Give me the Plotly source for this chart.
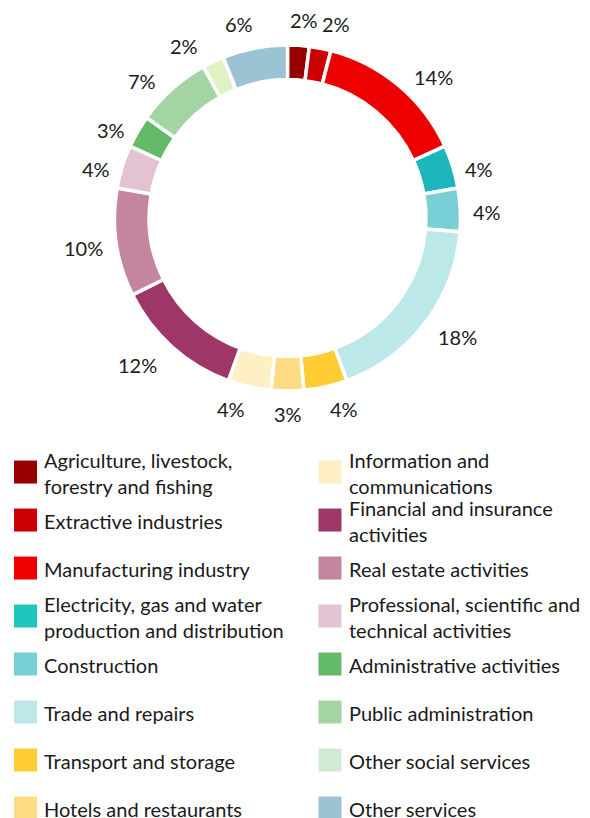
import math
import plotly.graph_objects as go

# sector shares (%), clockwise from 12 o'clock
SECTORS = [
    "Agriculture, livestock, forestry and fishing",
    "Extractive industries",
    "Manufacturing industry",
    "Electricity, gas and water production and distribution",
    "Construction",
    "Trade and repairs",
    "Transport and storage",
    "Hotels and restaurants",
    "Information and communications",
    "Financial and insurance activities",
    "Real estate activities",
    "Professional, scientific and technical activities",
    "Administrative activities",
    "Public administration",
    "Other social services",
    "Other services",
]
LEGEND_TEXT = [
    "Agriculture, livestock,<br>forestry and fishing",
    "Extractive industries",
    "Manufacturing industry",
    "Electricity, gas and water<br>production and distribution",
    "Construction",
    "Trade and repairs",
    "Transport and storage",
    "Hotels and restaurants",
    "Information and<br>communications",
    "Financial and insurance<br>activities",
    "Real estate activities",
    "Professional, scientific and<br>technical activities",
    "Administrative activities",
    "Public administration",
    "Other social services",
    "Other services",
]
SHARES = [2, 2, 14, 4, 4, 18, 4, 3, 4, 12, 10, 4, 3, 7, 2, 6]

RING_COLORS = [
    "#990000", "#CC0000", "#EC0000", "#1EB6BD", "#78D0D6", "#BCE8EA",
    "#FFCC33", "#FEDC84", "#FEF0C4", "#9E3667", "#C4859F", "#E3C2D2",
    "#63BA68", "#A2D5A3", "#DEF2C3", "#9BC3D4",
]
KEY_COLORS = [
    "#990000", "#CC0000", "#EC0000", "#1EC6BB", "#78D0D6", "#BCE8EA",
    "#FFCC33", "#FEDC84", "#FEF0C4", "#9E3667", "#C4859F", "#E3C2D2",
    "#63BA68", "#A2D5A3", "#D0EBD3", "#9BC3D4",
]

FONT = "Lato"
TEXT_COLOR = "#1a1a1a"
W, H = 590, 818
CX, CY, R = 287.5, 218, 173   # ring centre / outer radius in px


def label_pos(mid, label):
    # rough outside-label layout: radial, pushed sideways near 12/6 o'clock
    dx, dy = math.sin(mid), -math.cos(mid)
    half_w = (11.2 * (len(label) - 1) + 17) / 2
    spread = 1 + 0.3 * abs(dy) ** 4
    px = CX + (186 * dx + half_w * dx) * spread
    py = CY + 194 * dy + 2 + 7 * min(1.0, max(0.0, -3 * dy)) - 14 * max(0.0, -dy) ** 8
    return px, py


fig = go.Figure()

fig.add_trace(go.Pie(
    labels=SECTORS,
    values=SHARES,
    sort=False,
    direction="clockwise",
    rotation=0,
    hole=0.80,
    marker=dict(colors=RING_COLORS, line=dict(color="white", width=3.5)),
    textinfo="none",
    domain=dict(x=[(CX - R) / W, (CX + R) / W], y=[1 - (CY + R) / H, 1 - (CY - R) / H]),
    showlegend=False,
    hoverinfo="label+value",
))

total = sum(SHARES)
cum = 0
for share in SHARES:
    mid = (cum + share / 2) / total * 2 * math.pi
    cum += share
    label = f"{share}%"
    px, py = label_pos(mid, label)
    fig.add_annotation(
        x=px / W, y=1 - py / H, xref="paper", yref="paper",
        text=label, showarrow=False, xanchor="center", yanchor="middle",
        font=dict(family=FONT, size=20, color=TEXT_COLOR),
    )

# legend: two columns of eight entries, swatches and texts on their own axes
key_col = [i // 8 for i in range(len(SECTORS))]
key_row = [i % 8 for i in range(len(SECTORS))]
fig.add_trace(go.Scatter(
    x=key_col,
    y=key_row,
    mode="markers",
    marker=dict(symbol="square", size=23, color=KEY_COLORS, line=dict(width=0)),
    hoverinfo="skip",
    showlegend=False,
))
fig.add_trace(go.Scatter(
    x=key_col,
    y=key_row,
    xaxis="x2",
    yaxis="y2",
    mode="text",
    text=LEGEND_TEXT,
    textposition="middle right",
    textfont=dict(family=FONT, size=20, color=TEXT_COLOR),
    cliponaxis=False,
    hoverinfo="skip",
    showlegend=False,
))

fig.update_layout(
    width=W,
    height=H,
    margin=dict(l=0, r=0, t=0, b=0),
    paper_bgcolor="white",
    plot_bgcolor="rgba(0,0,0,0)",
    font=dict(family=FONT, color=TEXT_COLOR),
    xaxis=dict(range=[-0.0837, 1.854], visible=False, fixedrange=True),
    yaxis=dict(range=[7.208, -0.521], domain=[0, 0.4535], visible=False, fixedrange=True),
    xaxis2=dict(range=[-0.1443, 1.7902], visible=False, fixedrange=True, overlaying="x"),
    yaxis2=dict(range=[7.125, -0.604], domain=[0, 0.4535], visible=False, fixedrange=True,
                overlaying="y"),
)

fig.write_html(
    "out.html",
    config={"displayModeBar": False},
    post_script="document.body.style.margin='0';",
)
